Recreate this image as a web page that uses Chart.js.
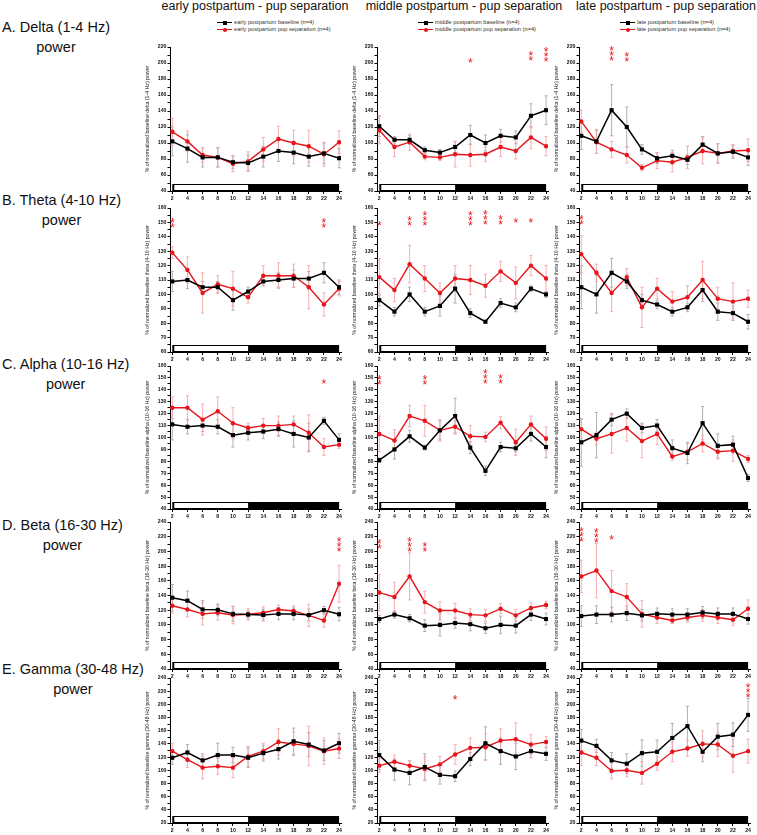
<!DOCTYPE html>
<html>
<head>
<meta charset="utf-8">
<script src="https://cdn.jsdelivr.net/npm/chart.js@4.4.0/dist/chart.umd.min.js"></script>
<style>
  body { margin: 0; background: #fff; width: 757px; height: 835px; position: relative; overflow: hidden;
         font-family: "Liberation Sans", Arial, sans-serif; color: #111; }
  canvas { position: absolute; }
  .coltitle { position: absolute; top: 0; font-size: 12.5px; line-height: 12px; white-space: nowrap; transform: translateX(-50%); }
  .rowlabel { position: absolute; left: 2px; font-size: 14.5px; line-height: 20px; white-space: nowrap; text-align: center; }
  .legend { position: absolute; font-size: 5.7px; line-height: 7px; color: #333; white-space: nowrap; }
  .lk { display: inline-block; position: relative; width: 15px; height: 7px; vertical-align: top; margin-right: 2px; }
  .lk::before { content: ''; position: absolute; left: 0; right: 0; top: 2.8px; height: 1.5px; background: currentColor; }
  .lk::after { content: ''; position: absolute; left: 5.5px; top: 1.5px; width: 4px; height: 4px; background: currentColor; }
  .lk.black { color: #000; }
  .lk.red { color: #e8141b; }
  .lk.red::after { border-radius: 50%; }
</style>
</head>
<body>
<script>
// ---- data ----
const hours = [2, 4, 6, 8, 10, 12, 14, 16, 18, 20, 22, 24];
const lightPhase = [2, 12];
const darkPhase = [12, 24];

const colTitles = ['early postpartum - pup separation', 'middle postpartum - pup separation', 'late postpartum - pup separation'];
const phaseNames = ['early', 'middle', 'late'];
const rowLabels = ['A. Delta (1-4 Hz)', 'B. Theta (4-10 Hz)', 'C. Alpha (10-16 Hz)', 'D. Beta (16-30 Hz)', 'E. Gamma (30-48 Hz)'];
const yTitles = [
  '% of normalized baseline delta (1-4 Hz) power',
  '% of normalized baseline theta (4-10 Hz) power',
  '% of normalized baseline alpha (10-16 Hz) power',
  '% of normalized baseline beta (16-30 Hz) power',
  '% of normalized baseline gamma (30-48 Hz) power'
];
const yMin = [40, 60, 40, 40, 20];
const yMax = [220, 160, 160, 240, 240];
const yMajor = [20, 10, 10, 20, 20];

// delta
const deltaEarlyBase = [102, 93, 82, 82, 76, 75, 83, 90, 88, 83, 87, 81];
const deltaEarlyBaseErr = [18, 17, 12, 12, 8, 10, 13, 13, 14, 12, 13, 12];
const deltaEarlySep = [114, 102, 85, 82, 74, 77, 92, 105, 100, 96, 86, 101];
const deltaEarlySepErr = [17, 13, 9, 12, 10, 12, 15, 16, 16, 20, 15, 14];
const deltaMiddleBase = [121, 104, 104, 91, 88, 95, 110, 100, 109, 107, 134, 141];
const deltaMiddleBaseErr = [13, 4, 5, 4, 4, 7, 12, 10, 8, 8, 15, 18];
const deltaMiddleSep = [116, 95, 101, 83, 82, 86, 85, 86, 95, 90, 107, 96];
const deltaMiddleSepErr = [17, 12, 10, 4, 4, 16, 14, 9, 12, 10, 14, 12];
const deltaLateBase = [109, 102, 141, 120, 92, 81, 84, 79, 98, 87, 89, 82];
const deltaLateBaseErr = [17, 15, 32, 25, 6, 7, 7, 6, 10, 12, 8, 10];
const deltaLateSep = [127, 101, 92, 85, 69, 78, 76, 82, 90, 87, 90, 91];
const deltaLateSepErr = [14, 14, 10, 10, 4, 10, 12, 14, 16, 12, 8, 14];

// theta
const thetaEarlyBase = [109, 110, 105, 105, 96, 102, 109, 110, 111, 111, 115, 105];
const thetaEarlyBaseErr = [7, 6, 4, 4, 7, 3, 3, 5, 6, 5, 7, 5];
const thetaEarlySep = [129, 117, 101, 107, 104, 98, 113, 113, 113, 105, 93, 104];
const thetaEarlySepErr = [4, 9, 14, 6, 12, 4, 7, 9, 8, 15, 8, 5];
const thetaMiddleBase = [96, 88, 100, 88, 92, 104, 87, 81, 94, 91, 104, 100];
const thetaMiddleBaseErr = [4, 3, 5, 3, 7, 10, 3, 1, 3, 3, 2, 2];
const thetaMiddleSep = [112, 103, 121, 111, 101, 111, 110, 106, 116, 108, 120, 111];
const thetaMiddleSepErr = [13, 8, 13, 9, 7, 9, 10, 8, 7, 11, 7, 9];
const thetaLateBase = [105, 100, 115, 109, 96, 93, 88, 91, 103, 88, 87, 81];
const thetaLateBaseErr = [15, 13, 10, 5, 4, 3, 3, 3, 8, 6, 5, 5];
const thetaLateSep = [128, 115, 101, 112, 91, 104, 95, 98, 110, 97, 95, 97];
const thetaLateSepErr = [13, 6, 13, 6, 14, 7, 7, 8, 13, 8, 13, 6];

// alpha
const alphaEarlyBase = [111, 109, 110, 109, 102, 104, 105, 107, 103, 100, 114, 98];
const alphaEarlyBaseErr = [13, 6, 5, 6, 10, 6, 6, 6, 11, 12, 3, 5];
const alphaEarlySep = [125, 125, 115, 122, 112, 108, 110, 110, 111, 104, 92, 94];
const alphaEarlySepErr = [9, 10, 13, 12, 13, 4, 6, 8, 7, 15, 7, 3];
const alphaMiddleBase = [81, 90, 101, 91.5, 106, 118, 91.5, 72, 92, 91, 103, 92];
const alphaMiddleBaseErr = [2, 8, 5, 2, 8, 15, 5, 4, 4, 3, 6, 9];
const alphaMiddleSep = [103, 97.5, 118, 114, 106, 109, 101, 100.5, 112.5, 96, 111, 99];
const alphaMiddleSepErr = [15, 9, 9, 13, 9, 5, 9, 4, 5, 11, 7, 10];
const alphaLateBase = [96, 102, 115, 120, 108, 110, 91, 87, 112, 93, 94, 66];
const alphaLateBaseErr = [20, 19, 5, 4, 4, 5, 7, 9, 14, 10, 7, 3];
const alphaLateSep = [107, 99, 103, 108, 97, 103, 84, 88, 95, 88, 89, 82];
const alphaLateSepErr = [8, 5, 16, 11, 14, 9, 3, 7, 7, 6, 9, 3];

// beta
const betaEarlyBase = [137, 133, 121, 120.5, 115, 114, 113.5, 115, 115, 113.5, 120, 114.5];
const betaEarlyBaseErr = [18, 13, 12, 8, 10, 5, 8, 8, 8, 8, 5, 9];
const betaEarlySep = [126, 121, 115, 116.5, 113.5, 114.5, 116.5, 121, 119, 113, 106, 156];
const betaEarlySepErr = [10, 10, 15, 10, 12, 8, 8, 6, 7, 15, 9, 25];
const betaMiddleBase = [108, 114, 109, 99, 100, 102.5, 101, 95.5, 100, 99, 114, 108];
const betaMiddleBaseErr = [5, 5, 5, 8, 15, 7, 9, 7, 12, 10, 8, 8];
const betaMiddleSep = [144, 138, 166, 131, 119.5, 119.5, 114, 113, 122, 113, 123, 127];
const betaMiddleSepErr = [25, 20, 32, 15, 12, 10, 8, 8, 7, 8, 7, 5];
const betaLateBase = [112, 114, 114, 116, 113, 115, 114, 114, 117, 115, 115, 108];
const betaLateBaseErr = [14, 12, 10, 10, 8, 8, 8, 8, 8, 8, 8, 7];
const betaLateSep = [166, 174, 146, 138, 115, 110, 106, 110, 113, 110, 107, 122];
const betaLateSepErr = [22, 37, 28, 18, 18, 8, 4, 6, 8, 8, 8, 12];

// gamma
const gammaEarlyBase = [119, 127, 115, 123, 123, 119, 126, 132, 144, 139, 130, 141];
const gammaEarlyBaseErr = [10, 12, 10, 18, 12, 15, 12, 15, 20, 18, 15, 15];
const gammaEarlySep = [129, 116, 104, 106, 104, 121, 129, 143, 140, 137, 129, 133];
const gammaEarlySepErr = [12, 12, 17, 12, 15, 15, 12, 20, 18, 30, 20, 15];
const gammaMiddleBase = [123, 101, 96, 105, 93, 91, 117, 141, 129, 121, 129, 125];
const gammaMiddleBaseErr = [22, 16, 18, 20, 14, 8, 10, 25, 20, 20, 10, 10];
const gammaMiddleSep = [107, 113, 107, 102, 109, 124, 134, 135, 145, 147, 139, 143];
const gammaMiddleSepErr = [10, 10, 8, 18, 12, 15, 15, 20, 18, 25, 15, 8];
const gammaLateBase = [145, 137, 115, 110, 126, 128, 149, 167, 128, 151, 154, 184];
const gammaLateBaseErr = [17, 10, 12, 15, 20, 18, 22, 30, 15, 20, 18, 25];
const gammaLateSep = [127, 119, 99, 100, 96, 110, 128, 133, 140, 139, 122, 129];
const gammaLateSepErr = [20, 12, 12, 10, 17, 10, 15, 12, 20, 18, 25, 18];

// significance stars: [hour, value of lowest star, number of stars]
const deltaMiddleStars = [[14, 203, 1], [22, 206, 2], [24, 204, 3]];
const deltaLateStars = [[6, 205, 3], [8, 204, 2]];
const thetaEarlyStars = [[2, 147.5, 2], [22, 147.5, 2]];
const thetaMiddleStars = [[2, 149, 1], [6, 149, 2], [8, 149, 3], [14, 149, 3], [16, 149.5, 3], [18, 149.5, 2], [20, 151, 1], [22, 151, 1]];
const thetaLateStars = [[2, 150, 2]];
const alphaEarlyStars = [[22, 147, 1]];
const alphaMiddleStars = [[2, 146, 2], [8, 146, 2], [16, 147, 3], [18, 147, 2]];
const betaEarlyStars = [[24, 203, 3]];
const betaMiddleStars = [[2, 206, 2], [6, 203, 3], [8, 203, 2]];
const betaLateStars = [[2, 216, 3], [4, 215, 3], [6, 219, 1]];
const gammaMiddleStars = [[12, 210, 1]];
const gammaLateStars = [[24, 213, 3]];

// ---- layout ----
const colAxisX = [170, 377, 579];
const rowTop = [47, 208, 366, 522, 678];
const rowBottom = [191, 352, 509, 669, 823];
const colTitleX = [255, 464, 666];
const legendX = [217, 418, 620];
const rowLabelY = [17, 190, 354, 515, 659];

const FONT = "'Liberation Sans', Arial, sans-serif";
const RED = '#e8141b';
Chart.defaults.font.family = FONT;

const panels = [
  [deltaEarlyBase, deltaEarlyBaseErr, deltaEarlySep, deltaEarlySepErr, []],
  [deltaMiddleBase, deltaMiddleBaseErr, deltaMiddleSep, deltaMiddleSepErr, deltaMiddleStars],
  [deltaLateBase, deltaLateBaseErr, deltaLateSep, deltaLateSepErr, deltaLateStars],
  [thetaEarlyBase, thetaEarlyBaseErr, thetaEarlySep, thetaEarlySepErr, thetaEarlyStars],
  [thetaMiddleBase, thetaMiddleBaseErr, thetaMiddleSep, thetaMiddleSepErr, thetaMiddleStars],
  [thetaLateBase, thetaLateBaseErr, thetaLateSep, thetaLateSepErr, thetaLateStars],
  [alphaEarlyBase, alphaEarlyBaseErr, alphaEarlySep, alphaEarlySepErr, alphaEarlyStars],
  [alphaMiddleBase, alphaMiddleBaseErr, alphaMiddleSep, alphaMiddleSepErr, alphaMiddleStars],
  [alphaLateBase, alphaLateBaseErr, alphaLateSep, alphaLateSepErr, []],
  [betaEarlyBase, betaEarlyBaseErr, betaEarlySep, betaEarlySepErr, betaEarlyStars],
  [betaMiddleBase, betaMiddleBaseErr, betaMiddleSep, betaMiddleSepErr, betaMiddleStars],
  [betaLateBase, betaLateBaseErr, betaLateSep, betaLateSepErr, betaLateStars],
  [gammaEarlyBase, gammaEarlyBaseErr, gammaEarlySep, gammaEarlySepErr, []],
  [gammaMiddleBase, gammaMiddleBaseErr, gammaMiddleSep, gammaMiddleSepErr, gammaMiddleStars],
  [gammaLateBase, gammaLateBaseErr, gammaLateSep, gammaLateSepErr, gammaLateStars]
];

// ---- text ----
function addDiv(cls, html, style) {
  const d = document.createElement('div');
  d.className = cls;
  d.innerHTML = html;
  Object.assign(d.style, style);
  document.body.appendChild(d);
}
colTitles.forEach((t, i) => addDiv('coltitle', t, { left: colTitleX[i] + 'px' }));
rowLabels.forEach((t, i) => addDiv('rowlabel', t + '<br>power', { top: rowLabelY[i] + 'px' }));
phaseNames.forEach((ph, i) => addDiv('legend',
  '<div><span class="lk black"></span>' + ph + ' postpartum baseline (n=4)</div>' +
  '<div><span class="lk red"></span>' + ph + ' postpartum pup separation (n=4)</div>',
  { left: legendX[i] + 'px', top: '19px' }));

// ---- plugins ----
const errorBars = {
  id: 'errorBars',
  beforeDatasetsDraw(chart) {
    const ctx = chart.ctx, y = chart.scales.y;
    chart.data.datasets.forEach((ds, i) => {
      const meta = chart.getDatasetMeta(i);
      ctx.save();
      ctx.strokeStyle = ds.errColor;
      ctx.lineWidth = 0.9;
      meta.data.forEach((pt, j) => {
        const v = ds.data[j].y, e = ds.errors[j];
        const y1 = y.getPixelForValue(v + e), y2 = y.getPixelForValue(v - e);
        ctx.beginPath();
        ctx.moveTo(pt.x, y1); ctx.lineTo(pt.x, y2);
        ctx.moveTo(pt.x - 1.6, y1); ctx.lineTo(pt.x + 1.6, y1);
        ctx.moveTo(pt.x - 1.6, y2); ctx.lineTo(pt.x + 1.6, y2);
        ctx.stroke();
      });
      ctx.restore();
    });
  }
};

const lightDarkBar = {
  id: 'lightDarkBar',
  beforeDatasetsDraw(chart) {
    const ctx = chart.ctx, x = chart.scales.x, a = chart.chartArea;
    const xs = x.getPixelForValue(lightPhase[0]);
    const xm = x.getPixelForValue(lightPhase[1]);
    const xe = x.getPixelForValue(darkPhase[1]);
    ctx.save();
    ctx.fillStyle = '#000';
    ctx.fillRect(xs, a.bottom - 7, xe - xs, 7.5);
    ctx.fillStyle = '#fff';
    ctx.fillRect(xs + 2, a.bottom - 6, xm - xs - 2, 5);
    ctx.restore();
  }
};

const stars = {
  id: 'stars',
  afterDatasetsDraw(chart, args, opts) {
    const ctx = chart.ctx, x = chart.scales.x, y = chart.scales.y;
    ctx.save();
    ctx.fillStyle = RED;
    ctx.font = '12px ' + FONT;
    ctx.textAlign = 'center';
    ctx.textBaseline = 'middle';
    (opts.marks || []).forEach(([h, v, n]) => {
      const px = x.getPixelForValue(h), py = y.getPixelForValue(v);
      for (let k = 0; k < n; k++) ctx.fillText('*', px, py + 3 - k * 5);
    });
    ctx.restore();
  }
};

// ---- charts ----
const Y_W = 28, PAD_T = 8, PAD_R = 6, X_H = 12, PLOT_W = 171;

panels.forEach((p, idx) => {
  const row = Math.floor(idx / 3), col = idx % 3;
  const [base, baseErr, sep, sepErr, marks] = p;
  const plotH = rowBottom[row] - rowTop[row];
  const c = document.createElement('canvas');
  c.width = Y_W + PLOT_W + PAD_R;
  c.height = PAD_T + plotH + X_H;
  c.style.width = c.width + 'px';
  c.style.height = c.height + 'px';
  c.style.left = (colAxisX[col] - Y_W) + 'px';
  c.style.top = (rowTop[row] - PAD_T) + 'px';
  document.body.appendChild(c);

  const major = yMajor[row];
  new Chart(c.getContext('2d'), {
    type: 'line',
    data: {
      datasets: [
        {
          label: phaseNames[col] + ' postpartum baseline (n=4)',
          data: hours.map((h, j) => ({ x: h, y: base[j] })),
          errors: baseErr, errColor: '#a8a8a8',
          borderColor: '#000', backgroundColor: '#000', borderWidth: 1.5,
          pointStyle: 'rect', pointRadius: 2.9, pointBorderWidth: 0, tension: 0
        },
        {
          label: phaseNames[col] + ' postpartum pup separation (n=4)',
          data: hours.map((h, j) => ({ x: h, y: sep[j] })),
          errors: sepErr, errColor: '#f4a6a6',
          borderColor: RED, backgroundColor: RED, borderWidth: 1.4,
          pointStyle: 'circle', pointRadius: 2.2, pointBorderWidth: 0, tension: 0
        }
      ]
    },
    options: {
      responsive: false,
      animation: false,
      devicePixelRatio: 1,
      layout: { padding: { top: PAD_T, right: PAD_R, left: 0, bottom: 0 } },
      plugins: {
        legend: { display: false },
        tooltip: { enabled: false },
        stars: { marks: marks }
      },
      scales: {
        x: {
          type: 'linear', min: 1.7, max: 24.25,
          afterBuildTicks: s => { s.ticks = hours.map(v => ({ value: v })); },
          afterFit: s => { s.height = X_H; },
          grid: { drawOnChartArea: false, drawTicks: true, tickLength: 3, color: '#000', lineWidth: 1 },
          border: { display: true, color: '#000', width: 1 },
          ticks: { font: { size: 5.2, weight: 'bold' }, color: '#111', padding: 1, maxRotation: 0, autoSkip: false }
        },
        y: {
          min: yMin[row], max: yMax[row],
          afterFit: s => { s.width = Y_W; },
          grid: { drawOnChartArea: false, drawTicks: true, tickLength: 2.5, color: '#000', lineWidth: 1 },
          border: { display: true, color: '#000', width: 1 },
          ticks: {
            stepSize: major / 2, autoSkip: false, includeBounds: false,
            font: { size: 5.2, weight: 'bold' }, color: '#111', padding: 1,
            callback: v => (v % major === 0 ? v : '')
          },
          title: { display: true, text: yTitles[row], font: { size: 5.2 }, color: '#222', padding: { top: 2, bottom: 0 } }
        }
      }
    },
    plugins: [errorBars, lightDarkBar, stars]
  });
});
</script>
</body>
</html>
